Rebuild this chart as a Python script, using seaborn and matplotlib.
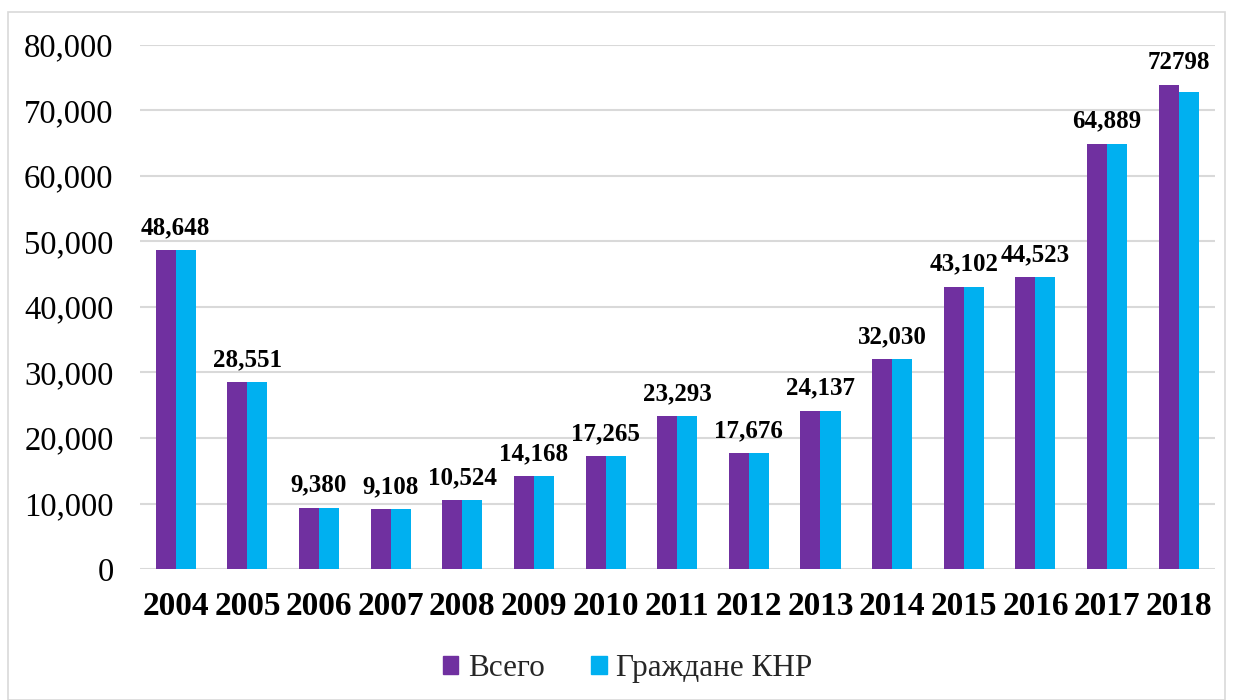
import matplotlib
matplotlib.use("Agg")
import matplotlib.pyplot as plt
import matplotlib.patches as mpatches
from matplotlib.ticker import FuncFormatter
import seaborn as sns
import pandas as pd

years = ["2004", "2005", "2006", "2007", "2008", "2009", "2010", "2011",
         "2012", "2013", "2014", "2015", "2016", "2017", "2018"]
total = [48648, 28551, 9380, 9108, 10524, 14168, 17265, 23293,
         17676, 24137, 32030, 43102, 44523, 64889, 73800]
chinese = [48648, 28551, 9380, 9108, 10524, 14168, 17265, 23293,
           17676, 24137, 32030, 43102, 44523, 64889, 72798]
value_labels = ["48,648", "28,551", "9,380", "9,108", "10,524", "14,168", "17,265",
                "23,293", "17,676", "24,137", "32,030", "43,102", "44,523",
                "64,889", "72798"]
series_names = ["Всего", "Граждане КНР"]
colors = ["#7030A0", "#00B0F0"]

df = pd.DataFrame({
    "year": years * 2,
    "value": total + chinese,
    "series": [series_names[0]] * len(years) + [series_names[1]] * len(years),
})

sns.set_theme(style="white")
plt.rcParams["font.family"] = ["Liberation Serif", "DejaVu Serif"]

fig = plt.figure(figsize=(12.33, 7.0), dpi=100)
ax = fig.add_axes([0.1135, 0.187, 0.8715, 0.749])

sns.barplot(data=df, x="year", y="value", hue="series", palette=colors,
            saturation=1, width=0.56, linewidth=0, ax=ax, legend=True)

ax.set_ylim(0, 80000)
ax.set_xlim(-0.5, len(years) - 0.5)
ax.set_yticks(range(0, 80001, 10000))
ax.yaxis.set_major_formatter(FuncFormatter(lambda v, p: f"{int(v):,}"))
ax.grid(axis="y", color="#D9D9D9", linewidth=1.5)
ax.set_axisbelow(True)
for s in ax.spines.values():
    s.set_visible(False)
ax.set_xlabel("")
ax.set_ylabel("")
ax.tick_params(axis="y", labelsize=23.5, length=0, pad=19, colors="black")
ax.tick_params(axis="x", labelsize=24, length=0, pad=16, colors="black")
for t in ax.get_xticklabels():
    t.set_fontweight("bold")

for i, lab in enumerate(value_labels):
    top = max(total[i], chinese[i])
    ax.annotate(lab, (i, top), xytext=(0, 8), textcoords="offset points",
                ha="center", va="bottom", fontsize=18, fontweight="bold",
                color="black")

handles = [mpatches.Patch(color=c, label=n) for c, n in zip(colors, series_names)]
ax.legend(handles=handles, loc="center", bbox_to_anchor=(0.454, -0.19),
          ncol=2, frameon=False, fontsize=22.5, handlelength=0.5, handleheight=0.5,
          handletextpad=0.3, columnspacing=1.5)

fig.patches.append(mpatches.Rectangle((0.0065, 0.0), 0.987, 0.983, transform=fig.transFigure,
                                      fill=False, edgecolor="#D9D9D9", linewidth=1.2))

fig.savefig("out.png", dpi=100)
